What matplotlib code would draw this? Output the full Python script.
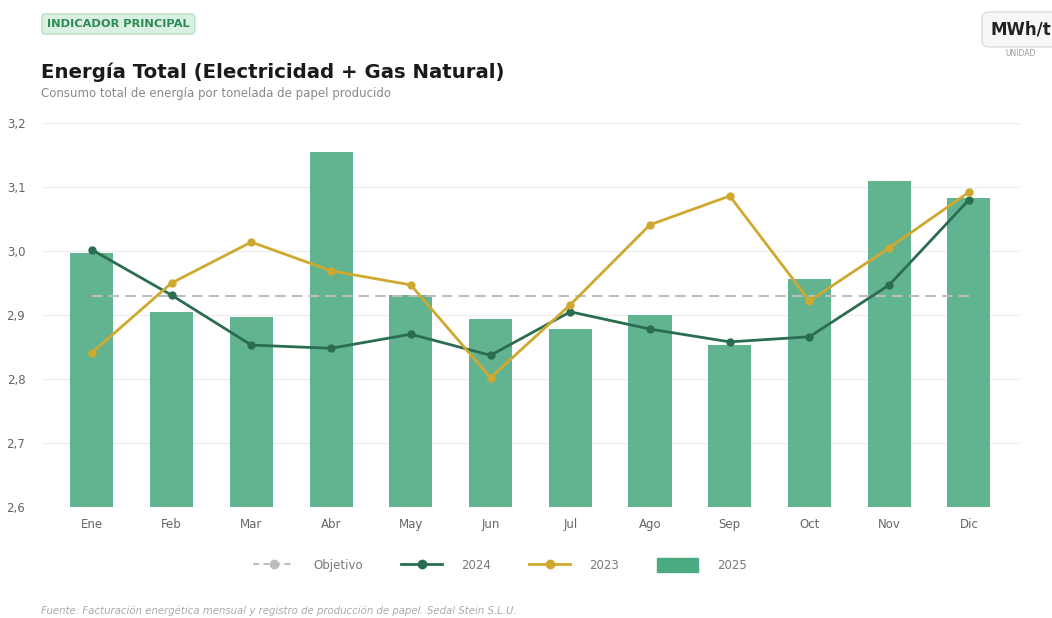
import numpy as np
import matplotlib
matplotlib.use("Agg")
import matplotlib.pyplot as plt
from matplotlib.lines import Line2D
from matplotlib.patches import Patch, FancyBboxPatch
from matplotlib.ticker import FuncFormatter

# data
meses = ["Ene", "Feb", "Mar", "Abr", "May", "Jun", "Jul", "Ago", "Sep", "Oct", "Nov", "Dic"]
v2025 = [2.997, 2.905, 2.897, 3.155, 2.931, 2.894, 2.878, 2.900, 2.853, 2.956, 3.109, 3.083]
v2024 = [3.002, 2.931, 2.853, 2.848, 2.870, 2.837, 2.905, 2.878, 2.858, 2.866, 2.947, 3.080]
v2023 = [2.841, 2.950, 3.014, 2.969, 2.947, 2.802, 2.916, 3.041, 3.086, 2.922, 3.005, 3.092]
objetivo = 2.93

bar_color = "#4caa82"
c2024 = "#2b6e4f"
c2023 = "#cfa92f"
c_obj = "#bdbdbd"

fig = plt.figure(figsize=(10.52, 6.18), dpi=100)
W, H = 1052, 618
ax = fig.add_axes([42/W, (H-507)/H, (1020-42)/W, 384/H])

x = np.arange(len(meses))
ax.bar(x, np.array(v2025) - 2.6, bottom=2.6, width=0.54, color=bar_color, alpha=0.88, zorder=2)
ax.plot(x, [objetivo]*len(x), color=c_obj, lw=1.5, ls=(0, (5, 3)), zorder=3)
ax.plot(x, v2024, color=c2024, lw=2, marker="o", ms=5, zorder=4)
ax.plot(x, v2023, color=c2023, lw=2, marker="o", ms=5, zorder=4)

ax.set_ylim(2.6, 3.2)
ax.set_xlim(-0.625, 11.64)
ax.set_yticks([2.6, 2.7, 2.8, 2.9, 3.0, 3.1, 3.2])
ax.yaxis.set_major_formatter(FuncFormatter(lambda v, p: f"{v:.1f}".replace(".", ",")))
ax.set_xticks(x)
ax.set_xticklabels(meses)
ax.tick_params(axis="both", length=0, labelsize=8.5, labelcolor="#666666")
ax.tick_params(axis="y", pad=12)
ax.tick_params(axis="x", pad=8)
ax.grid(axis="y", color="#eeeeee", lw=1, zorder=0)
for s in ax.spines.values():
    s.set_visible(False)

# legend
handles = [
    Line2D([], [], color=c_obj, lw=1.5, ls=(0, (3, 2)), marker="o", ms=6),
    Line2D([], [], color=c2024, lw=2, marker="o", ms=6),
    Line2D([], [], color=c2023, lw=2, marker="o", ms=6),
    Patch(color=bar_color),
]
fig.legend(handles, ["Objetivo", "2024", "2023", "2025"], loc="center",
           bbox_to_anchor=(500/W, (H-565)/H), ncol=4, frameon=False,
           fontsize=8.5, labelcolor="#777777", handlelength=3.5, handleheight=1.4,
           columnspacing=3.2, handletextpad=1.6)

# header
fig.text(47/W, (H-24)/H, "INDICADOR PRINCIPAL", fontsize=8.2, fontweight="bold",
         color="#2e8b57", va="center", ha="left",
         bbox=dict(boxstyle="round,pad=0.45,rounding_size=0.3", fc="#d9f0e3", ec="#b8e0c9", lw=1))
fig.text(41/W, (H-72)/H, "Energía Total (Electricidad + Gas Natural)", fontsize=14.2,
         fontweight="bold", color="#1a1a1a", va="center", ha="left")
fig.text(41/W, (H-93)/H, "Consumo total de energía por tonelada de papel producido",
         fontsize=8.5, color="#888888", va="center", ha="left")

# unit box
fig.patches.append(FancyBboxPatch((982/W, (H-47)/H), 80/W, 35/H,
                                  boxstyle="round,pad=0,rounding_size=0.008",
                                  transform=fig.transFigure, fc="#f7f7f7", ec="#dddddd", lw=1))
fig.text(990/W, (H-30)/H, "MWh/t", fontsize=12, fontweight="bold", color="#222222",
         va="center", ha="left")
fig.text(1021/W, (H-54)/H, "UNIDAD", fontsize=5.5, color="#999999", va="center", ha="center")

# footer
fig.text(41/W, (H-611)/H,
         "Fuente: Facturación energética mensual y registro de producción de papel. Sedal Stein S.L.U.",
         fontsize=7.3, style="italic", color="#aaaaaa", va="center", ha="left")

fig.savefig("out.png", dpi=100)
